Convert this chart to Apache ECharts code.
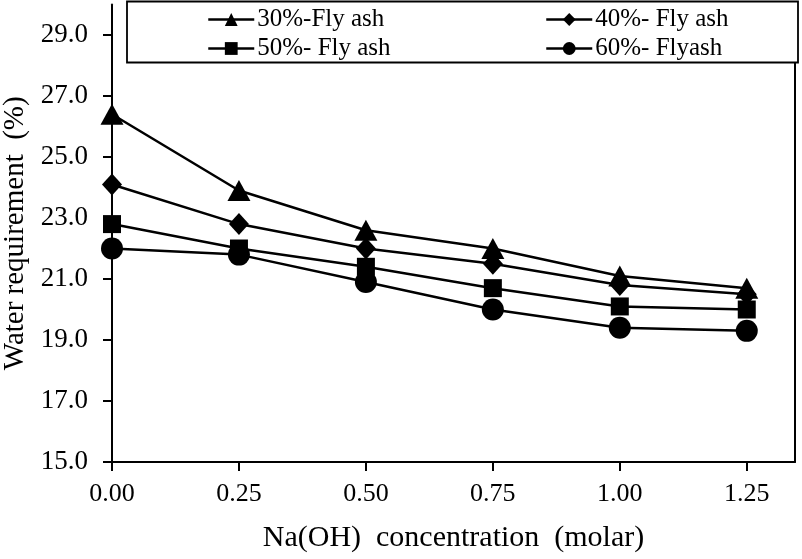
<!DOCTYPE html>
<html>
<head>
<meta charset="utf-8">
<script src="https://cdn.jsdelivr.net/npm/echarts@6/dist/echarts.min.js"></script>
<style>
html,body{margin:0;padding:0;background:#fff;}
#chart{width:802px;height:559px;}
</style>
</head>
<body>
<div id="chart"></div>
<script>
const xValues = [0, 0.25, 0.5, 0.75, 1.0, 1.25];
const xTicks = [0, 0.25, 0.5, 0.75, 1.0, 1.25];
const yTicks = [15, 17, 19, 21, 23, 25, 27, 29];
const seriesNames = ['30%-Fly ash', '40%- Fly ash', '50%- Fly ash', '60%- Flyash'];
const s30 = [26.4, 23.9, 22.6, 22.0, 21.1, 20.7];
const s40 = [24.1, 22.8, 22.0, 21.5, 20.8, 20.5];
const s50 = [22.8, 22.0, 21.4, 20.7, 20.1, 20.0];
const s60 = [22.0, 21.8, 20.9, 20.0, 19.4, 19.3];

const FONT = '"Liberation Serif", "Times New Roman", serif';
const chart = echarts.init(document.getElementById('chart'), null, {renderer: 'canvas'});

function pts(arr) { return xValues.map((x, i) => [x, arr[i]]); }

const symbols = [
  {symbol: 'triangle', size: [23, 21]},
  {symbol: 'diamond', size: [20, 22]},
  {symbol: 'rect', size: [18, 18]},
  {symbol: 'circle', size: 22}
];
const dataSets = [s30, s40, s50, s60];

const legendPos = [
  {left: 207, top: 7},
  {left: 545, top: 7},
  {left: 207, top: 36},
  {left: 545, top: 36}
];

const option = {
  backgroundColor: '#fff',
  animation: false,
  textStyle: {fontFamily: FONT, color: '#000'},
  grid: {left: 112, right: 7, top: 4.5, bottom: 97, containLabel: false, outerBoundsMode: 'none'},
  graphic: [{
    type: 'rect',
    shape: {x: 127, y: 1.5, width: 671, height: 61},
    style: {fill: '#fff', stroke: '#000', lineWidth: 1.8},
    z: 3
  }],
  legend: legendPos.map((p, i) => ({
    data: [seriesNames[i]],
    left: p.left, top: p.top,
    padding: 0,
    itemWidth: 46, itemHeight: 16,
    itemGap: 0,
    z: 5,
    lineStyle: {width: 2.5, color: '#000'},
    textStyle: {fontFamily: FONT, fontSize: 25, color: '#000', padding: [0, 0, 0, -2]}
  })),
  xAxis: {
    type: 'value', min: 0, max: 1.345,
    name: 'Na(OH)  concentration  (molar)',
    nameLocation: 'middle', nameGap: 61,
    nameTextStyle: {fontFamily: FONT, fontSize: 30, color: '#000'},
    axisLine: {lineStyle: {color: '#000', width: 2}},
    axisTick: {show: true, length: 9, lineStyle: {color: '#000', width: 2}, customValues: xTicks},
    axisLabel: {fontFamily: FONT, fontSize: 26, color: '#000', margin: 19, customValues: xTicks,
      formatter: v => v.toFixed(2)},
    splitLine: {show: false}
  },
  yAxis: [{
    type: 'value', min: 15, max: 30,
    name: 'Water requirement  (%)',
    nameLocation: 'middle', nameGap: 80, nameRotate: 90,
    nameTextStyle: {fontFamily: FONT, fontSize: 29, color: '#000'},
    axisLine: {show: true, lineStyle: {color: '#000', width: 2}},
    axisTick: {show: true, length: 9, lineStyle: {color: '#000', width: 2}, customValues: yTicks},
    axisLabel: {fontFamily: FONT, fontSize: 27, color: '#000', margin: 24, customValues: yTicks,
      formatter: v => v.toFixed(1)},
    splitLine: {show: false}
  }, {
    type: 'value', min: 15, max: 30, position: 'right',
    axisLine: {show: true, lineStyle: {color: '#000', width: 2}},
    axisTick: {show: false}, axisLabel: {show: false}, splitLine: {show: false}
  }],
  series: dataSets.map((d, i) => ({
    name: seriesNames[i],
    type: 'line',
    data: pts(d),
    symbol: symbols[i].symbol,
    symbolSize: symbols[i].size,
    lineStyle: {color: '#000', width: 2.5},
    itemStyle: {color: '#000'},
    z: 2
  }))
};
chart.setOption(option);
</script>
</body>
</html>
